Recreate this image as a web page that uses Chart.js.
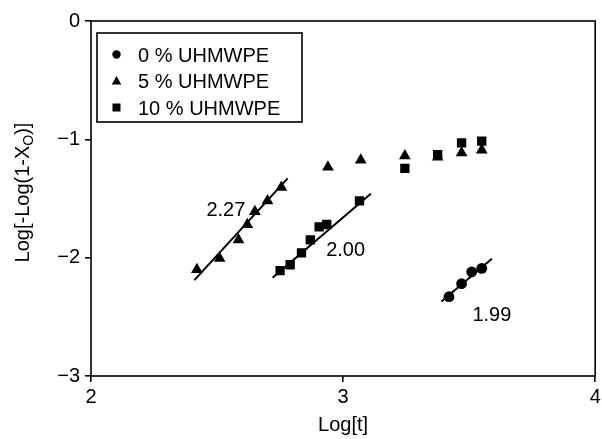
<!DOCTYPE html>
<html>
<head>
<meta charset="utf-8">
<script src="https://cdn.jsdelivr.net/npm/chart.js@4/dist/chart.umd.min.js"></script>
<style>
html,body{margin:0;padding:0;background:#fff;}
#wrap{width:602px;height:439px;position:relative;}
</style>
</head>
<body>
<div id="wrap"><canvas id="chart"></canvas></div>
<script>

/* data */
let labels0 = "0 % UHMWPE";
let labels5 = "5 % UHMWPE";
let labels10 = "10 % UHMWPE";

let circleX = [3.42, 3.47, 3.51, 3.55];
let circleY = [-2.33, -2.22, -2.12, -2.09];

let triX = [2.42, 2.51, 2.585, 2.62, 2.65, 2.70, 2.755, 2.94, 3.07, 3.245, 3.375, 3.47, 3.55];
let triY = [-2.10, -2.005, -1.85, -1.72, -1.61, -1.52, -1.405, -1.235, -1.175, -1.14, -1.15, -1.115, -1.09];

let sqX = [2.75, 2.79, 2.835, 2.87, 2.905, 2.935, 3.065, 3.245, 3.375, 3.47, 3.55];
let sqY = [-2.11, -2.06, -1.96, -1.85, -1.74, -1.72, -1.52, -1.245, -1.13, -1.03, -1.015];

/* fitted lines, two end points each */
let fit5X = [2.41, 2.78];
let fit5Y = [-2.19, -1.33];
let fit10X = [2.72, 3.11];
let fit10Y = [-2.17, -1.46];
let fit0X = [3.39, 3.59];
let fit0Y = [-2.37, -2.01];

/* slope annotations */
let slopeText = ["2.27", "2.00", "1.99"];
let slopeX = [2.535, 3.01, 3.59];
let slopeY = [-1.60, -1.94, -2.49];

let xTicks = [2, 3, 4];
let yTicks = [0, -1, -2, -3];

let FONT = "'Liberation Sans', Arial, Helvetica, sans-serif";

function pts(xs, ys){
return xs.map((x,i) => ({x:x, y:ys[i]}));
}

function fitSet(xs, ys){
return {
type:"line",
data:pts(xs, ys),
borderColor:"#000",
borderWidth:2,
pointRadius:0,
fill:false,
showLine:true
};
}

/* frame, titles, legend box and slope labels */
let extras = {
id:"extras",
afterDraw(chart){
let ctx = chart.ctx;
let a = chart.chartArea;
let xs = chart.scales.x, ys = chart.scales.y;
ctx.save();

// frame
ctx.strokeStyle = "#000";
ctx.lineWidth = 1.6;
ctx.strokeRect(a.left, a.top, a.right - a.left, a.bottom - a.top);

ctx.fillStyle = "#000";
ctx.font = "20px " + FONT;
ctx.textBaseline = "middle";

// slope labels
ctx.textAlign = "center";
slopeText.forEach((t,i) => {
ctx.fillText(t, xs.getPixelForValue(slopeX[i]), ys.getPixelForValue(slopeY[i]));
});

// x title
ctx.fillText("Log[t]", (a.left + a.right)/2, 425);

// y title with subscript
ctx.save();
ctx.translate(23, (a.top + a.bottom)/2 - 6);
ctx.rotate(-Math.PI/2);
let p1 = "Log[-Log(1-X", p2 = "O", p3 = ")]";
ctx.font = "20px " + FONT;
let w1 = ctx.measureText(p1).width;
let w3 = ctx.measureText(p3).width;
ctx.font = "14px " + FONT;
let w2 = ctx.measureText(p2).width;
let sx = -(w1 + w2 + w3)/2;
ctx.textAlign = "left";
ctx.font = "20px " + FONT;
ctx.fillText(p1, sx, 0);
ctx.font = "14px " + FONT;
ctx.fillText(p2, sx + w1, 6);
ctx.font = "20px " + FONT;
ctx.fillText(p3, sx + w1 + w2, 0);
ctx.restore();

// legend box
ctx.lineWidth = 1.6;
ctx.strokeRect(97, 33, 205, 89);
let rows = [56, 82.5, 109];
chart.data.datasets.slice(0,3).forEach((ds,i) => {
let y = rows[i];
let mx = 116.5, my = y - 1.5;
ctx.beginPath();
if(ds.pointStyle === "circle"){
ctx.arc(mx, my, 4.2, 0, Math.PI*2);
}else if(ds.pointStyle === "triangle"){
ctx.moveTo(mx, my - 5);
ctx.lineTo(mx + 4.8, my + 3.5);
ctx.lineTo(mx - 4.8, my + 3.5);
ctx.closePath();
}else{
ctx.rect(mx - 4, my - 4, 8, 8);
}
ctx.fill();
ctx.textAlign = "left";
ctx.font = "20px " + FONT;
ctx.fillText(ds.label, 138, y);
});

ctx.restore();
}
};

let ctx = document.getElementById("chart").getContext("2d");

let chart = new Chart(ctx,{
type:"scatter",
data:{
datasets:[
{label:labels0, data:pts(circleX, circleY), pointStyle:"circle", pointRadius:5.4,
backgroundColor:"#000", borderColor:"#000", borderWidth:0},
{label:labels5, data:pts(triX, triY), pointStyle:"triangle", pointRadius:6.8,
backgroundColor:"#000", borderColor:"#000", borderWidth:0},
{label:labels10, data:pts(sqX, sqY), pointStyle:"rect", pointRadius:6.6,
backgroundColor:"#000", borderColor:"#000", borderWidth:0},
fitSet(fit5X, fit5Y),
fitSet(fit10X, fit10Y),
fitSet(fit0X, fit0Y)
]
},
options:{
responsive:true,
maintainAspectRatio:false,
animation:false,
layout:{padding:{top:21, right:5, left:0, bottom:0}},
plugins:{
legend:{display:false},
tooltip:{enabled:false}
},
scales:{
x:{
type:"linear",
min:2, max:4,
afterFit(s){ s.height = 63; s.paddingRight = 0; s.paddingLeft = 0; },
afterBuildTicks(s){ s.ticks = xTicks.map(v => ({value:v})); },
grid:{display:true, drawOnChartArea:false, drawTicks:true, tickLength:6, color:"#000", lineWidth:1.6},
border:{display:false},
ticks:{color:"#000", padding:3, maxRotation:0, font:{family:FONT, size:20}}
},
y:{
type:"linear",
min:-3, max:0,
afterFit(s){ s.width = 91; s.paddingTop = 0; s.paddingBottom = 0; },
afterBuildTicks(s){ s.ticks = yTicks.map(v => ({value:v})); },
grid:{display:true, drawOnChartArea:false, drawTicks:true, tickLength:6, color:"#000", lineWidth:1.6},
border:{display:false},
ticks:{color:"#000", padding:5, font:{family:FONT, size:20},
callback:v => v < 0 ? "\u2212" + Math.abs(v) : String(v)}
}
}
},
plugins:[extras]
});

</script>
</body>
</html>
